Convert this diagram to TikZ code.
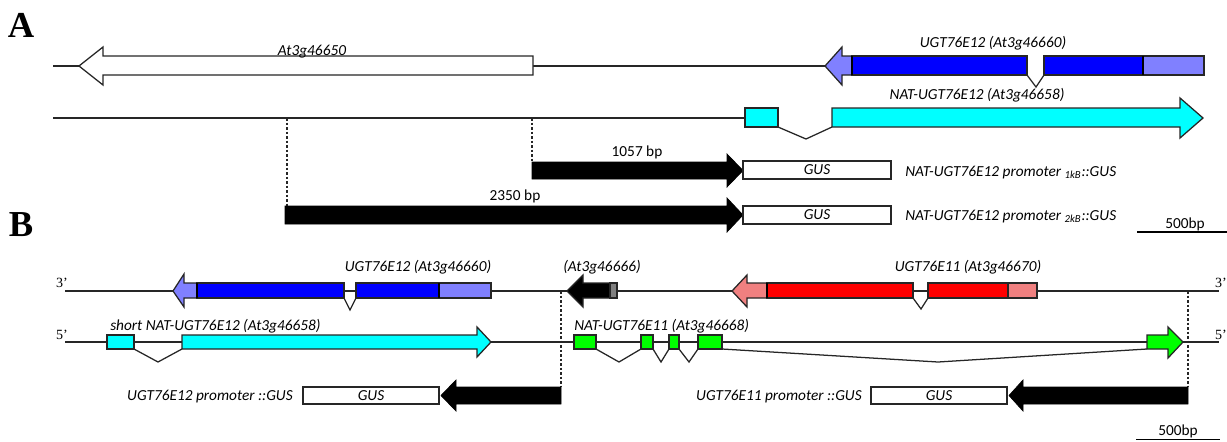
\documentclass[tikz,border=0pt]{standalone}
\usepackage{fontspec}
\setmainfont{Carlito}
\newfontfamily\panelfont{Liberation Serif}
\usepackage{tikz}
\usepackage{xcolor}
\usetikzlibrary{positioning, calc}
\definecolor{cBlue}{RGB}{0,0,255}
\definecolor{cBlueL}{RGB}{128,128,255}
\definecolor{cCyan}{RGB}{0,255,255}
\definecolor{cRed}{RGB}{255,0,0}
\definecolor{cRedL}{RGB}{240,128,128}
\definecolor{cLime}{RGB}{0,255,0}
\definecolor{cGrey}{RGB}{128,128,128}
\tikzset{
	strand/.style   ={line width=0.9pt, draw=black!85},
	exonbox/.style  ={draw=black!85, line width=0.9pt},
	intronline/.style={line width=0.9pt, draw=black!85},
	sepline/.style  ={line width=1.8pt, draw=black},
	promarrow/.style={fill=black, draw=black, line width=0.5pt},
	gusbox/.style   ={draw=black!85, line width=0.9pt, fill=white},
	guide/.style    ={draw=black!85, line width=0.9pt, dash pattern=on 2pt off 1.2pt},
	glabel/.style   ={font=\fontsize{10.9}{12}\selectfont\itshape, inner sep=0pt},
	plabel/.style   ={font=\fontsize{10.9}{12}\selectfont, inner sep=0pt},
	panel/.style    ={font=\panelfont\bfseries\fontsize{26}{30}\selectfont, inner sep=0pt},
	endlabel/.style ={font=\panelfont\fontsize{10}{12}\selectfont, inner sep=0pt},
}

\begin{document}
\begin{tikzpicture}[x=0.025cm, y=-0.025cm]
	\useasboundingbox (0,0) rectangle (1227,441);
	% panel A
	\node[panel] (pA) at (21,25) {A};
	\draw[strand] (53,66) -- (825,66);
	\draw[exonbox, fill=white] (533,56) -- (103,56) -- (103,47) -- (79,66) -- (103,85) -- (103,75) -- (533,75) -- cycle;
	\node[glabel, anchor=base] (gA1) at (312,55) {At3g46650};
	\draw[exonbox, fill=cBlueL] (852,56) -- (842,56) -- (842,47) -- (825,66) -- (842,85) -- (842,75) -- (852,75) -- cycle;
	\draw[exonbox, fill=cBlue] (852,56) rectangle (1027,75);
	\draw[intronline] (1027,75) -- (1036,87) -- (1044,75);
	\draw[exonbox, fill=cBlue] (1044,56) rectangle (1143,75);
	\draw[exonbox, fill=cBlueL] (1143,56) rectangle (1204,75);
	\draw[sepline] (852,56) -- (852,75);
	\draw[sepline] (1143,56) -- (1143,75);
	\node[glabel, anchor=base] (gA2) at (993,47) {UGT76E12 (At3g46660)};

	\draw[strand] (53,118) -- (745,118);
	\draw[exonbox, fill=cCyan] (745,108) rectangle (778,127);
	\draw[intronline] (778,127) -- (806,139) -- (832,127);
	\draw[exonbox, fill=cCyan] (832,108) -- (1180,108) -- (1180,98) -- (1203,118) -- (1180,138) -- (1180,127) -- (832,127) -- cycle;
	\node[glabel, anchor=base] (gA3) at (977,99) {NAT-UGT76E12 (At3g46658)};

	\coordinate (cut1) at (532,118);
	\coordinate (cut2) at (287,118);
	\coordinate (p1) at (532,162);
	\coordinate (p2) at (287,206);
	\draw[guide] (cut1) -- (p1);
	\draw[guide] (cut2) -- (p2);
	\draw[promarrow] (532,162) -- (727,162) -- (727,154) -- (743,170.5) -- (727,187) -- (727,179) -- (532,179) -- cycle;
	\node[plabel] (bp1) at (637,152) {1057 bp};
	\draw[promarrow] (285,206) -- (727,206) -- (727,198) -- (743,215) -- (727,232) -- (727,224) -- (285,224) -- cycle;
	\node[plabel] (bp2) at (515,196) {2350 bp};
	\draw[gusbox] (743,161) rectangle (891,179);
	\node[glabel] (gus1) at (817,170) {GUS};
	\draw[gusbox] (743,206) rectangle (891,224);
	\node[glabel] (gus2) at (817,215) {GUS};
	\node[glabel, anchor=base west] (con1) at (905,176) {NAT-UGT76E12 promoter \textsubscript{1kB}::GUS};
	\node[glabel, anchor=base west] (con2) at (905,220) {NAT-UGT76E12 promoter \textsubscript{2kB}::GUS};
	\draw[line width=2pt] (1137,232) -- (1227,232);
	\node[plabel, anchor=base] (sb1) at (1185,228) {500bp};

	% panel B
	\node[panel] (pB) at (21,225) {B};
	\node[endlabel] (e3l) at (62,283) {3’};
	\node[endlabel] (e5l) at (62,335) {5’};
	\node[endlabel, anchor=east] (e3r) at (1227,283) {3’};
	\node[endlabel, anchor=east] (e5r) at (1227,335) {5’};
	\draw[strand] (65,291) -- (1219,291);
	\draw[strand] (65,342) -- (1219,342);

	\draw[exonbox, fill=cBlueL] (197,283) -- (184,283) -- (184,274) -- (173,291) -- (184,307) -- (184,298) -- (197,298) -- cycle;
	\draw[exonbox, fill=cBlue] (197,283) rectangle (344,298);
	\draw[intronline] (344,298) -- (350,310) -- (356,298);
	\draw[exonbox, fill=cBlue] (356,283) rectangle (439,298);
	\draw[exonbox, fill=cBlueL] (439,283) rectangle (491,298);
	\draw[sepline] (197,283) -- (197,298);
	\draw[sepline] (439,283) -- (439,298);
	\node[glabel, anchor=base] (gB1) at (418,271) {UGT76E12 (At3g46660)};

	\draw[exonbox, fill=black] (610,283) -- (583,283) -- (583,275) -- (567,291) -- (583,307) -- (583,298) -- (610,298) -- cycle;
	\draw[exonbox, fill=cGrey] (610,283) rectangle (617,298);
	\node[glabel, anchor=base] (gB2) at (602,271) {(At3g46666)};

	\draw[exonbox, fill=cRedL] (767,283) -- (747,283) -- (747,275) -- (732,291) -- (747,307) -- (747,298) -- (767,298) -- cycle;
	\draw[exonbox, fill=cRed] (767,283) rectangle (913,298);
	\draw[intronline] (913,298) -- (921,309) -- (928,298);
	\draw[exonbox, fill=cRed] (928,283) rectangle (1008,298);
	\draw[exonbox, fill=cRedL] (1008,283) rectangle (1037,298);
	\draw[sepline] (767,283) -- (767,298);
	\node[glabel, anchor=base] (gB3) at (968,271) {UGT76E11 (At3g46670)};

	\draw[exonbox, fill=cCyan] (107,335) rectangle (134,349);
	\draw[intronline] (134,349) -- (158,362) -- (182,349);
	\draw[exonbox, fill=cCyan] (182,335) -- (477,335) -- (477,327) -- (491,342) -- (477,357) -- (477,349) -- (182,349) -- cycle;
	\node[glabel, anchor=base west] (gB4) at (110,330) {short NAT-UGT76E12 (At3g46658)};

	\draw[exonbox, fill=cLime] (574,335) rectangle (596,349);
	\draw[exonbox, fill=cLime] (641,335) rectangle (653,349);
	\draw[exonbox, fill=cLime] (669,335) rectangle (679,349);
	\draw[exonbox, fill=cLime] (698,335) rectangle (722,349);
	\draw[intronline] (596,349) -- (619,362) -- (641,349);
	\draw[intronline] (653,349) -- (661,362) -- (669,349);
	\draw[intronline] (679,349) -- (689,362) -- (698,349);
	\draw[intronline] (722,349) -- (938,362) -- (1147,349);
	\draw[exonbox, fill=cLime] (1147,335) -- (1168,335) -- (1168,327) -- (1183,342) -- (1168,358) -- (1168,349) -- (1147,349) -- cycle;
	\node[glabel, anchor=base west] (gB5) at (574,330) {NAT-UGT76E11 (At3g46668)};

	\coordinate (cut3) at (561,291);
	\coordinate (cut4) at (1188,291);
	\coordinate (p3) at (561,387);
	\coordinate (p4) at (1188,387);
	\draw[guide] (cut3) -- (p3);
	\draw[guide] (cut4) -- (p4);

	\draw[gusbox] (303,387) rectangle (439,404);
	\node[glabel] (gus3) at (371,395.5) {GUS};
	\draw[promarrow] (561,387) -- (456,387) -- (456,380) -- (441,395.5) -- (456,411) -- (456,404) -- (561,404) -- cycle;
	\node[glabel, anchor=base east] (con3) at (293,400) {UGT76E12 promoter ::GUS};

	\draw[gusbox] (871,387) rectangle (1007,404);
	\node[glabel] (gus4) at (939,395.5) {GUS};
	\draw[promarrow] (1188,387) -- (1023,387) -- (1023,380) -- (1009,395.5) -- (1023,411) -- (1023,404) -- (1188,404) -- cycle;
	\node[glabel, anchor=base east] (con4) at (862,400) {UGT76E11 promoter ::GUS};

	\draw[line width=0.6pt] (1136,439) -- (1220,439);
	\node[plabel, anchor=base] (sb2) at (1178,435) {500bp};
\end{tikzpicture}
\end{document}
